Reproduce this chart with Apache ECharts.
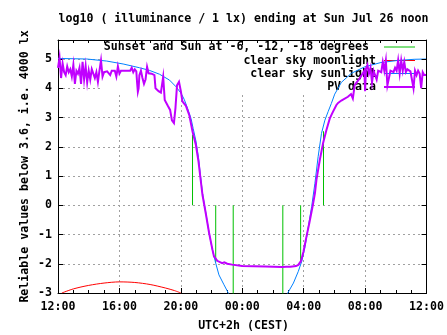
<!DOCTYPE html>
<html>
<head>
<meta charset="utf-8">
<script src="https://cdn.jsdelivr.net/npm/echarts@6/dist/echarts.min.js"></script>
<style>
  html, body { margin: 0; padding: 0; background: #ffffff; }
  #chart { width: 447px; height: 335px; }
</style>
</head>
<body>
<div id="chart"></div>
<script>
// ---- texts ----
const titleText = 'log10 ( illuminance / 1 lx) ending at Sun Jul 26 noon';
const xAxisTitle = 'UTC+2h (CEST)';
const yAxisTitle = 'Reliable values below 3.6, i.e. 4000 lx';
const legendNames = ['Sunset and Sun at -6, -12, -18 degrees', 'clear sky moonlight', 'clear sky sunlight', 'PV data'];

// ---- axes (x in hours after Saturday 12:00) ----
const xMin = 0, xMax = 24, xStep = 4;
const yMin = -3, yMax = 5.65, yStep = 1;

// ---- sunset / twilight markers: time and clear-sky level where each bar ends ----
const twilightHours = [8.76, 10.27, 11.41, 14.64, 15.80, 17.29];
const twilightEnds  = [2.41, -1.95, -3.5, -3.5, -1.98, 2.53];

// ---- clear sky moonlight ----
const moonHours = [0.25, 1.0, 2.0, 3.0, 4.0, 5.0, 6.0, 7.0, 7.6, 8.0];
const moonLevel = [-3.0, -2.86, -2.74, -2.66, -2.62, -2.64, -2.71, -2.83, -2.92, -3.0];

// ---- clear sky sunlight ----
const sunHours = [0, 1.87, 3.17, 4.24, 5.32, 5.96, 6.61, 7.26, 7.69, 8.01, 8.22, 8.44, 8.66, 8.80, 8.98,
  9.15, 9.26, 9.41, 9.63, 9.84, 10.05, 10.27, 10.48, 10.81, 11.09, 11.3,
  14.75, 14.96, 15.33, 15.65, 15.87, 16.09, 16.30, 16.52, 16.73, 16.94, 17.16, 17.38, 17.59, 17.80,
  18.02, 18.24, 18.45, 19.10, 19.96, 21.03, 22.11, 23.19, 24];
const sunLevel = [5.02, 5.0, 4.93, 4.83, 4.70, 4.61, 4.48, 4.28, 4.05, 3.83, 3.62, 3.31, 2.97, 2.63, 2.2,
  1.63, 1.1, 0.41, -0.27, -0.95, -1.52, -1.98, -2.38, -2.72, -3.0, -3.3,
  -3.3, -3.0, -2.66, -2.26, -1.92, -1.41, -0.73, -0.04, 0.75, 1.66, 2.46, 2.91, 3.2, 3.48,
  3.8, 4.0, 4.2, 4.51, 4.73, 4.88, 4.95, 4.99, 5.0];

// ---- PV sensor readings ----
const pvHours = [
  0.0, 0.1, 0.2, 0.3, 0.4, 0.5, 0.6, 0.7, 0.8, 0.9, 1.0, 1.1, 1.2, 1.3, 1.4, 1.5, 1.6, 1.7, 1.8, 1.9,
  2.0, 2.1, 2.2, 2.3, 2.4, 2.5, 2.6, 2.7, 2.8, 2.9, 3.0, 3.1, 3.2, 3.3, 3.4, 3.5, 3.6, 3.7, 3.8, 3.9,
  4.0, 4.1, 4.2, 4.3, 4.4, 4.5, 4.6, 4.7, 4.8, 4.9, 5.0, 5.1, 5.15, 5.2, 5.25, 5.3, 5.4, 5.5, 5.6, 5.7,
  5.8, 5.9, 6.0, 6.1, 6.2, 6.28, 6.35, 6.45, 6.55, 6.7, 6.85, 6.95, 7.05, 7.15, 7.3, 7.42, 7.55, 7.65,
  7.75, 7.88, 8.0, 8.1, 8.2, 8.33, 8.55, 8.76, 8.98, 9.15, 9.26, 9.41, 9.63, 9.84, 10.05, 10.16, 10.27,
  10.37, 10.48, 10.69, 10.83, 10.91, 11.02, 11.34, 11.99, 13.5, 14.57, 14.88, 15.01, 15.14, 15.5, 15.65,
  15.83, 15.98, 16.17, 16.37, 16.58, 16.73, 16.83, 17.05, 17.26, 17.48, 17.7, 17.91, 18.13, 18.24, 18.45,
  18.88, 19.08, 19.2, 19.32, 19.64, 19.85, 19.95, 20.0, 20.05, 20.15, 20.25, 20.35, 20.45, 20.55, 20.65,
  20.75, 20.85, 20.95, 21.05, 21.15, 21.25, 21.35, 21.45, 21.55, 21.65, 21.75, 21.85, 21.95, 22.05,
  22.15, 22.25, 22.35, 22.45, 22.55, 22.65, 22.75, 22.85, 22.95, 23.05, 23.15, 23.25, 23.35, 23.45,
  23.55, 23.65, 23.75, 23.85, 23.95, 24.0];
const pvLevel = [
  4.70, 5.05, 4.35, 4.85, 4.55, 4.45, 4.75, 4.55, 4.65, 4.40, 4.80, 4.15, 4.60, 4.50, 4.70, 4.15, 4.90, 4.30, 4.75, 4.20,
  4.60, 4.30, 4.65, 4.50, 4.35, 4.55, 4.22, 4.60, 4.95, 4.40, 4.55, 4.60, 4.58, 4.60, 4.45, 4.60, 4.62, 4.60, 4.40, 4.75,
  4.50, 4.60, 4.58, 4.60, 4.59, 4.60, 4.58, 4.60, 4.70, 4.55, 4.65, 4.58, 4.20, 3.88, 4.00, 4.45, 4.60, 4.35, 4.15, 4.30,
  4.73, 4.51, 4.52, 4.50, 4.51, 4.45, 4.00, 4.05, 3.90, 3.85, 4.39, 3.60, 3.54, 3.40, 3.26, 2.90, 2.81, 3.33,
  4.10, 4.22, 3.90, 3.55, 3.50, 3.40, 3.08, 2.52, 2.06, 1.49, 1.00, 0.35, -0.30, -0.95, -1.50, -1.75, -1.82,
  -1.90, -1.92, -1.98, -1.95, -1.90, -2.00, -2.03, -2.08, -2.09, -2.11, -2.10, -2.04, -2.10, -2.08, -2.04,
  -1.90, -1.60, -1.10, -0.60, -0.04, 0.41, 0.87, 1.55, 2.12, 2.57, 2.97, 3.20, 3.43, 3.50, 3.58,
  3.71, 3.80, 3.65, 4.11, 4.34, 4.51, 4.60, 3.90, 4.65, 4.80, 4.50, 4.70, 4.20, 4.60, 4.55,
  4.30, 4.60, 4.62, 4.55, 4.90, 4.60, 4.95, 4.10, 4.05, 4.60, 4.65, 4.55, 4.70, 4.60,
  4.96, 4.50, 4.95, 4.60, 4.90, 4.55, 4.65, 4.60, 4.58, 4.62, 4.00, 4.60, 4.45, 4.60,
  4.50, 4.00, 4.55, 4.45, 4.45, 4.45];

// ---- colours ----
const GREEN = '#00c000', RED = '#ff0000', BLUE = '#0080ff', PURPLE = '#c000ff';
const legendColors = [GREEN, RED, BLUE, PURPLE];
const legendWidths = [1, 1, 1, 2];
const FONT_FAMILY = '"DejaVu Sans Mono", "Liberation Mono", monospace';
const FONT = 'bold 11.6px ' + FONT_FAMILY;

const zip = (xs, ys) => xs.map((x, i) => [x, ys[i]]);
const hourLabel = v => String((12 + v) % 24).padStart(2, '0') + ':00';

const chart = echarts.init(document.getElementById('chart'), null, { renderer: 'canvas' });

const grid = { left: 58, right: 18, top: 40, bottom: 42, containLabel: false };

const series = [];
twilightHours.forEach((h, i) => {
  series.push({
    type: 'line', xAxisIndex: 0, yAxisIndex: 0, showSymbol: false, silent: true, clip: true,
    lineStyle: { color: GREEN, width: 1 }, z: 2,
    data: [[h, 0], [h, twilightEnds[i]]]
  });
});
series.push({
  type: 'line', showSymbol: false, clip: true, z: 3,
  lineStyle: { color: RED, width: 1 }, data: zip(moonHours, moonLevel), smooth: 0.3
});
series.push({
  type: 'line', showSymbol: false, clip: true, z: 4,
  lineStyle: { color: BLUE, width: 1 }, data: zip(sunHours, sunLevel)
});
series.push({
  type: 'line', showSymbol: false, clip: true, z: 5, step: false,
  lineStyle: { color: PURPLE, width: 2, join: 'miter' }, data: zip(pvHours, pvLevel)
});

// key drawn as plain graphics on an opaque panel, beneath the data lines
const keyRowsY = [47, 60.5, 73.5, 87];
const keyTextRight = [369, 376, 376, 376];
const graphics = [
  { type: 'rect', z: 1, silent: true, shape: { x: 103, y: 41, width: 319, height: 52 }, style: { fill: '#ffffff' } },
  { type: 'text', z: 1, x: 243.5, y: 19, style: { text: titleText, font: FONT, fill: '#000', textAlign: 'center', textVerticalAlign: 'middle' } },
  { type: 'text', z: 1, x: 243.5, y: 326, style: { text: xAxisTitle, font: FONT, fill: '#000', textAlign: 'center', textVerticalAlign: 'middle' } },
  { type: 'text', z: 1, x: 25, y: 166.5, rotation: Math.PI / 2, style: { text: yAxisTitle, font: FONT, fill: '#000', textAlign: 'center', textVerticalAlign: 'middle' } }
];
legendNames.forEach((name, i) => {
  graphics.push({ type: 'text', z: 1, x: keyTextRight[i], y: keyRowsY[i],
    style: { text: name, font: FONT, fill: '#000', textAlign: 'right', textVerticalAlign: 'middle' } });
  graphics.push({ type: 'line', z: 1, silent: true,
    shape: { x1: 384, y1: keyRowsY[i], x2: 415, y2: keyRowsY[i] },
    style: { stroke: legendColors[i], lineWidth: legendWidths[i] } });
});

const gridLine = { show: true, lineStyle: { color: '#a0a0a0', width: 1, type: [2, 3] } };
const border = { show: true, onZero: false, lineStyle: { color: '#000', width: 1 } };

chart.setOption({
  animation: false,
  backgroundColor: '#ffffff',
  grid: grid,
  xAxis: [
    {
      type: 'value', position: 'bottom', min: xMin, max: xMax, interval: xStep,
      axisLine: border,
      axisTick: { show: true, inside: true, length: 5, lineStyle: { color: '#000' } },
      minorTick: { show: true, splitNumber: 4, length: 3, lineStyle: { color: '#000' } },
      splitLine: gridLine,
      axisLabel: { show: true, margin: 8, color: '#000', fontFamily: FONT_FAMILY, fontWeight: 'bold', fontSize: 11.6,
        formatter: hourLabel }
    },
    {
      type: 'value', position: 'top', min: xMin, max: xMax, interval: xStep, z: 6,
      axisLine: border,
      axisTick: { show: true, inside: true, length: 5, lineStyle: { color: '#000' } },
      minorTick: { show: true, splitNumber: 4, length: 3, lineStyle: { color: '#000' } },
      splitLine: { show: false }, axisLabel: { show: false }
    }
  ],
  yAxis: [
    {
      type: 'value', position: 'left', min: yMin, max: yMax, interval: yStep,
      axisLine: border,
      axisTick: { show: true, inside: true, length: 5, lineStyle: { color: '#000' } },
      splitLine: gridLine,
      axisLabel: { show: true, margin: 6, color: '#000', fontFamily: FONT_FAMILY, fontWeight: 'bold', fontSize: 11.6,
        showMaxLabel: false, formatter: v => (Number.isInteger(v) ? String(v) : '') }
    },
    {
      type: 'value', position: 'right', min: yMin, max: yMax, interval: yStep, z: 6,
      axisLine: border,
      axisTick: { show: true, inside: true, length: 5, lineStyle: { color: '#000' } },
      splitLine: { show: false }, axisLabel: { show: false }
    }
  ],
  graphic: graphics,
  series: series
});
</script>
</body>
</html>
